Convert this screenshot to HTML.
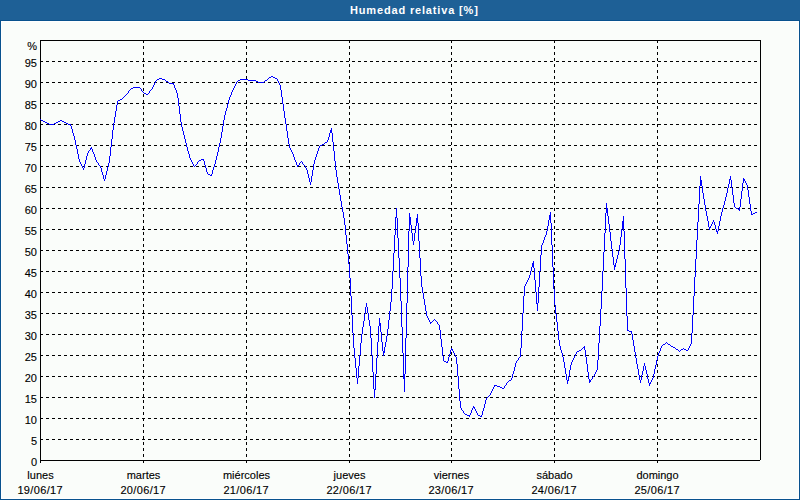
<!DOCTYPE html>
<html><head><meta charset="utf-8"><style>
html,body{margin:0;padding:0;width:800px;height:500px;overflow:hidden;background:#fafdfa}
#wrap{position:relative;width:800px;height:500px;}
#title{position:absolute;left:0;top:0;width:800px;height:20px;background:#1e6096;}
#title span{position:absolute;left:350px;top:5px;font:bold 11px "Liberation Sans",sans-serif;color:#fff;white-space:nowrap;line-height:11px;letter-spacing:0.84px}
#frame{position:absolute;left:0;top:20px;width:798px;height:478px;border:1px solid #08528e;box-shadow:inset 0 0 0 1px #fff}
svg{position:absolute;left:0;top:0}
svg text{font-family:"Liberation Sans",sans-serif;font-size:11px;fill:#000;stroke:#000;stroke-width:0.12px}
.g{stroke:#000;stroke-width:1;stroke-dasharray:3 3;shape-rendering:crispEdges}
.a{stroke:#000;stroke-width:1;shape-rendering:crispEdges}
</style></head><body><div id="wrap">
<div id="title"><span>Humedad relativa [%]</span></div>
<div id="frame"></div>
<svg width="800" height="500" viewBox="0 0 800 500">
<line x1="40" y1="439.5" x2="760" y2="439.5" class="g"/>
<line x1="40" y1="418.5" x2="760" y2="418.5" class="g"/>
<line x1="40" y1="397.5" x2="760" y2="397.5" class="g"/>
<line x1="40" y1="376.5" x2="760" y2="376.5" class="g"/>
<line x1="40" y1="355.5" x2="760" y2="355.5" class="g"/>
<line x1="40" y1="334.5" x2="760" y2="334.5" class="g"/>
<line x1="40" y1="313.5" x2="760" y2="313.5" class="g"/>
<line x1="40" y1="292.5" x2="760" y2="292.5" class="g"/>
<line x1="40" y1="271.5" x2="760" y2="271.5" class="g"/>
<line x1="40" y1="250.5" x2="760" y2="250.5" class="g"/>
<line x1="40" y1="229.5" x2="760" y2="229.5" class="g"/>
<line x1="40" y1="208.5" x2="760" y2="208.5" class="g"/>
<line x1="40" y1="187.5" x2="760" y2="187.5" class="g"/>
<line x1="40" y1="166.5" x2="760" y2="166.5" class="g"/>
<line x1="40" y1="145.5" x2="760" y2="145.5" class="g"/>
<line x1="40" y1="124.5" x2="760" y2="124.5" class="g"/>
<line x1="40" y1="103.5" x2="760" y2="103.5" class="g"/>
<line x1="40" y1="82.5" x2="760" y2="82.5" class="g"/>
<line x1="40" y1="61.5" x2="760" y2="61.5" class="g"/>
<line x1="143.5" y1="40" x2="143.5" y2="460" class="g"/>
<line x1="246.5" y1="40" x2="246.5" y2="460" class="g"/>
<line x1="349.5" y1="40" x2="349.5" y2="460" class="g"/>
<line x1="451.5" y1="40" x2="451.5" y2="460" class="g"/>
<line x1="554.5" y1="40" x2="554.5" y2="460" class="g"/>
<line x1="657.5" y1="40" x2="657.5" y2="460" class="g"/>
<line x1="40" y1="40.5" x2="761" y2="40.5" class="a"/>
<line x1="760.5" y1="40" x2="760.5" y2="460" class="a"/>
<line x1="40" y1="460.5" x2="760" y2="460.5" class="a"/>
<line x1="40.5" y1="40" x2="40.5" y2="463" class="a"/>
<line x1="143.5" y1="460" x2="143.5" y2="463" class="a"/>
<line x1="246.5" y1="460" x2="246.5" y2="463" class="a"/>
<line x1="349.5" y1="460" x2="349.5" y2="463" class="a"/>
<line x1="451.5" y1="460" x2="451.5" y2="463" class="a"/>
<line x1="554.5" y1="460" x2="554.5" y2="463" class="a"/>
<line x1="657.5" y1="460" x2="657.5" y2="463" class="a"/>
<path d="M40 119h1v1h-1zM41 120h1v1h-1zM42 120h1v1h-1zM43 121h1v1h-1zM44 121h1v1h-1zM45 122h1v1h-1zM46 122h1v1h-1zM47 123h1v1h-1zM48 123h1v1h-1zM49 124h1v1h-1zM50 124h1v1h-1zM51 124h1v1h-1zM52 124h1v1h-1zM53 124h1v1h-1zM54 123h1v1h-1zM55 123h1v1h-1zM56 122h1v1h-1zM57 122h1v1h-1zM58 121h1v1h-1zM59 121h1v1h-1zM60 120h1v1h-1zM61 120h1v1h-1zM62 121h1v1h-1zM63 121h1v1h-1zM64 122h1v1h-1zM65 122h1v1h-1zM66 123h1v1h-1zM67 123h1v1h-1zM68 124h1v1h-1zM69 124h1v1h-1zM70 124h1v2h-1zM71 126h1v3h-1zM72 129h1v4h-1zM73 133h1v3h-1zM74 136h1v4h-1zM75 140h1v5h-1zM76 145h1v4h-1zM77 149h1v5h-1zM78 154h1v5h-1zM79 159h1v3h-1zM80 162h1v2h-1zM81 164h1v2h-1zM82 166h1v2h-1zM83 168h1v2h-1zM84 164h1v4h-1zM85 160h1v4h-1zM86 156h1v4h-1zM87 153h1v3h-1zM88 151h1v2h-1zM89 150h1v1h-1zM90 148h1v2h-1zM91 147h1v2h-1zM92 149h1v3h-1zM93 152h1v2h-1zM94 154h1v3h-1zM95 157h1v3h-1zM96 160h1v2h-1zM97 162h1v1h-1zM98 163h1v2h-1zM99 165h1v1h-1zM100 166h1v2h-1zM101 168h1v4h-1zM102 172h1v3h-1zM103 175h1v4h-1zM104 179h1v2h-1zM105 175h1v4h-1zM106 171h1v4h-1zM107 167h1v4h-1zM108 163h1v4h-1zM109 156h1v7h-1zM110 147h1v9h-1zM111 139h1v8h-1zM112 130h1v9h-1zM113 123h1v7h-1zM114 117h1v6h-1zM115 111h1v6h-1zM116 105h1v6h-1zM117 101h1v4h-1zM118 100h1v1h-1zM119 100h1v1h-1zM120 99h1v1h-1zM121 99h1v1h-1zM122 98h1v1h-1zM123 97h1v1h-1zM124 96h1v1h-1zM125 95h1v1h-1zM126 94h1v1h-1zM127 93h1v1h-1zM128 91h1v2h-1zM129 90h1v1h-1zM130 89h1v1h-1zM131 88h1v1h-1zM132 88h1v1h-1zM133 87h1v1h-1zM134 87h1v1h-1zM135 87h1v1h-1zM136 87h1v1h-1zM137 87h1v1h-1zM138 87h1v1h-1zM139 87h1v1h-1zM140 88h1v1h-1zM141 89h1v2h-1zM142 91h1v1h-1zM143 92h1v1h-1zM144 93h1v1h-1zM145 93h1v1h-1zM146 94h1v1h-1zM147 94h1v1h-1zM148 93h1v1h-1zM149 91h1v2h-1zM150 90h1v1h-1zM151 89h1v1h-1zM152 87h1v2h-1zM153 85h1v2h-1zM154 83h1v2h-1zM155 81h1v2h-1zM156 80h1v1h-1zM157 79h1v1h-1zM158 79h1v1h-1zM159 78h1v1h-1zM160 78h1v1h-1zM161 78h1v1h-1zM162 79h1v1h-1zM163 79h1v1h-1zM164 79h1v1h-1zM165 80h1v1h-1zM166 81h1v1h-1zM167 81h1v1h-1zM168 82h1v1h-1zM169 83h1v1h-1zM170 83h1v1h-1zM171 83h1v1h-1zM172 83h1v1h-1zM173 83h1v2h-1zM174 85h1v3h-1zM175 88h1v2h-1zM176 90h1v3h-1zM177 93h1v5h-1zM178 98h1v8h-1zM179 106h1v8h-1zM180 114h1v8h-1zM181 122h1v5h-1zM182 127h1v4h-1zM183 131h1v4h-1zM184 135h1v4h-1zM185 139h1v4h-1zM186 143h1v4h-1zM187 147h1v4h-1zM188 151h1v3h-1zM189 154h1v4h-1zM190 158h1v2h-1zM191 160h1v2h-1zM192 162h1v2h-1zM193 164h1v2h-1zM194 166h1v1h-1zM195 165h1v1h-1zM196 164h1v1h-1zM197 162h1v2h-1zM198 161h1v1h-1zM199 160h1v1h-1zM200 160h1v1h-1zM201 159h1v1h-1zM202 159h1v1h-1zM203 159h1v2h-1zM204 161h1v4h-1zM205 165h1v3h-1zM206 168h1v4h-1zM207 172h1v2h-1zM208 174h1v1h-1zM209 174h1v1h-1zM210 175h1v1h-1zM211 174h1v2h-1zM212 170h1v4h-1zM213 167h1v3h-1zM214 164h1v3h-1zM215 160h1v4h-1zM216 156h1v4h-1zM217 152h1v4h-1zM218 147h1v5h-1zM219 143h1v4h-1zM220 138h1v5h-1zM221 132h1v6h-1zM222 126h1v6h-1zM223 120h1v6h-1zM224 115h1v5h-1zM225 111h1v4h-1zM226 108h1v3h-1zM227 104h1v4h-1zM228 100h1v4h-1zM229 97h1v3h-1zM230 95h1v2h-1zM231 92h1v3h-1zM232 90h1v2h-1zM233 88h1v2h-1zM234 86h1v2h-1zM235 84h1v2h-1zM236 82h1v2h-1zM237 81h1v1h-1zM238 80h1v1h-1zM239 80h1v1h-1zM240 79h1v1h-1zM241 79h1v1h-1zM242 79h1v1h-1zM243 79h1v1h-1zM244 79h1v1h-1zM245 79h1v1h-1zM246 79h1v1h-1zM247 79h1v1h-1zM248 80h1v1h-1zM249 80h1v1h-1zM250 80h1v1h-1zM251 80h1v1h-1zM252 80h1v1h-1zM253 80h1v1h-1zM254 80h1v1h-1zM255 80h1v1h-1zM256 81h1v1h-1zM257 81h1v1h-1zM258 82h1v1h-1zM259 82h1v1h-1zM260 82h1v1h-1zM261 82h1v1h-1zM262 82h1v1h-1zM263 82h1v1h-1zM264 81h1v1h-1zM265 80h1v1h-1zM266 80h1v1h-1zM267 79h1v1h-1zM268 78h1v1h-1zM269 77h1v1h-1zM270 77h1v1h-1zM271 76h1v1h-1zM272 76h1v1h-1zM273 77h1v1h-1zM274 77h1v1h-1zM275 78h1v1h-1zM276 78h1v1h-1zM277 79h1v2h-1zM278 81h1v2h-1zM279 83h1v2h-1zM280 85h1v5h-1zM281 90h1v7h-1zM282 97h1v7h-1zM283 104h1v7h-1zM284 111h1v7h-1zM285 118h1v6h-1zM286 124h1v7h-1zM287 131h1v7h-1zM288 138h1v6h-1zM289 144h1v4h-1zM290 148h1v2h-1zM291 150h1v2h-1zM292 152h1v2h-1zM293 154h1v3h-1zM294 157h1v3h-1zM295 160h1v2h-1zM296 162h1v3h-1zM297 165h1v2h-1zM298 165h1v1h-1zM299 163h1v2h-1zM300 162h1v1h-1zM301 161h1v1h-1zM302 162h1v2h-1zM303 164h1v1h-1zM304 165h1v1h-1zM305 166h1v2h-1zM306 168h1v2h-1zM307 170h1v4h-1zM308 174h1v4h-1zM309 178h1v4h-1zM310 182h1v3h-1zM311 176h1v6h-1zM312 170h1v6h-1zM313 164h1v6h-1zM314 160h1v4h-1zM315 157h1v3h-1zM316 154h1v3h-1zM317 151h1v3h-1zM318 148h1v3h-1zM319 146h1v2h-1zM320 145h1v1h-1zM321 145h1v1h-1zM322 144h1v1h-1zM323 144h1v1h-1zM324 143h1v1h-1zM325 142h1v1h-1zM326 142h1v1h-1zM327 140h1v2h-1zM328 137h1v3h-1zM329 133h1v4h-1zM330 130h1v3h-1zM331 128h1v5h-1zM332 133h1v9h-1zM333 142h1v9h-1zM334 151h1v10h-1zM335 161h1v9h-1zM336 170h1v7h-1zM337 177h1v6h-1zM338 183h1v6h-1zM339 189h1v6h-1zM340 195h1v6h-1zM341 201h1v6h-1zM342 207h1v5h-1zM343 212h1v6h-1zM344 218h1v7h-1zM345 225h1v10h-1zM346 235h1v9h-1zM347 244h1v10h-1zM348 254h1v10h-1zM349 264h1v14h-1zM350 278h1v18h-1zM351 296h1v19h-1zM352 315h1v18h-1zM353 333h1v15h-1zM354 348h1v10h-1zM355 358h1v10h-1zM356 368h1v10h-1zM357 378h1v6h-1zM358 366h1v12h-1zM359 355h1v11h-1zM360 343h1v12h-1zM361 334h1v9h-1zM362 327h1v7h-1zM363 321h1v6h-1zM364 314h1v7h-1zM365 307h1v7h-1zM366 303h1v4h-1zM367 307h1v6h-1zM368 313h1v7h-1zM369 320h1v6h-1zM370 326h1v12h-1zM371 338h1v17h-1zM372 355h1v17h-1zM373 372h1v17h-1zM374 389h1v9h-1zM375 374h1v16h-1zM376 358h1v16h-1zM377 342h1v16h-1zM378 326h1v16h-1zM379 318h1v8h-1zM380 323h1v9h-1zM381 332h1v10h-1zM382 342h1v9h-1zM383 351h1v5h-1zM384 347h1v6h-1zM385 342h1v5h-1zM386 336h1v6h-1zM387 329h1v7h-1zM388 320h1v9h-1zM389 311h1v9h-1zM390 302h1v9h-1zM391 289h1v13h-1zM392 271h1v18h-1zM393 253h1v18h-1zM394 235h1v18h-1zM395 217h1v18h-1zM396 208h1v10h-1zM397 218h1v20h-1zM398 238h1v20h-1zM399 258h1v20h-1zM400 278h1v23h-1zM401 301h1v26h-1zM402 327h1v26h-1zM403 353h1v26h-1zM404 374h1v18h-1zM405 338h1v36h-1zM406 303h1v35h-1zM407 267h1v36h-1zM408 231h1v36h-1zM409 213h1v18h-1zM410 217h1v8h-1zM411 225h1v8h-1zM412 233h1v8h-1zM413 241h1v4h-1zM414 233h1v8h-1zM415 226h1v7h-1zM416 218h1v8h-1zM417 214h1v9h-1zM418 223h1v18h-1zM419 241h1v17h-1zM420 258h1v18h-1zM421 276h1v11h-1zM422 287h1v6h-1zM423 293h1v6h-1zM424 299h1v6h-1zM425 305h1v6h-1zM426 311h1v5h-1zM427 316h1v2h-1zM428 318h1v2h-1zM429 320h1v2h-1zM430 322h1v2h-1zM431 322h1v1h-1zM432 321h1v1h-1zM433 320h1v1h-1zM434 319h1v1h-1zM435 320h1v1h-1zM436 321h1v1h-1zM437 322h1v2h-1zM438 324h1v1h-1zM439 325h1v5h-1zM440 330h1v9h-1zM441 339h1v8h-1zM442 347h1v9h-1zM443 356h1v5h-1zM444 361h1v1h-1zM445 361h1v1h-1zM446 362h1v1h-1zM447 361h1v2h-1zM448 357h1v4h-1zM449 354h1v3h-1zM450 350h1v4h-1zM451 348h1v2h-1zM452 349h1v2h-1zM453 351h1v2h-1zM454 353h1v2h-1zM455 355h1v2h-1zM456 357h1v7h-1zM457 364h1v12h-1zM458 376h1v13h-1zM459 389h1v12h-1zM460 401h1v7h-1zM461 408h1v2h-1zM462 410h1v1h-1zM463 411h1v2h-1zM464 413h1v1h-1zM465 414h1v1h-1zM466 414h1v1h-1zM467 415h1v1h-1zM468 415h1v1h-1zM469 415h1v2h-1zM470 413h1v2h-1zM471 410h1v3h-1zM472 408h1v2h-1zM473 406h1v2h-1zM474 407h1v2h-1zM475 409h1v2h-1zM476 411h1v2h-1zM477 413h1v2h-1zM478 415h1v1h-1zM479 415h1v1h-1zM480 416h1v1h-1zM481 415h1v2h-1zM482 411h1v4h-1zM483 408h1v3h-1zM484 404h1v4h-1zM485 400h1v4h-1zM486 398h1v2h-1zM487 397h1v1h-1zM488 396h1v1h-1zM489 395h1v1h-1zM490 393h1v2h-1zM491 391h1v2h-1zM492 389h1v2h-1zM493 387h1v2h-1zM494 385h1v2h-1zM495 385h1v1h-1zM496 385h1v1h-1zM497 386h1v1h-1zM498 386h1v1h-1zM499 386h1v1h-1zM500 387h1v1h-1zM501 387h1v1h-1zM502 388h1v1h-1zM503 388h1v1h-1zM504 386h1v2h-1zM505 385h1v1h-1zM506 383h1v2h-1zM507 382h1v1h-1zM508 381h1v1h-1zM509 380h1v1h-1zM510 380h1v1h-1zM511 378h1v2h-1zM512 374h1v4h-1zM513 371h1v3h-1zM514 367h1v4h-1zM515 363h1v4h-1zM516 361h1v2h-1zM517 360h1v1h-1zM518 358h1v2h-1zM519 357h1v1h-1zM520 348h1v9h-1zM521 331h1v17h-1zM522 313h1v18h-1zM523 296h1v17h-1zM524 286h1v10h-1zM525 284h1v2h-1zM526 282h1v2h-1zM527 280h1v2h-1zM528 278h1v2h-1zM529 275h1v3h-1zM530 271h1v4h-1zM531 267h1v4h-1zM532 263h1v4h-1zM533 261h1v7h-1zM534 268h1v12h-1zM535 280h1v12h-1zM536 292h1v12h-1zM537 303h1v8h-1zM538 287h1v16h-1zM539 271h1v16h-1zM540 255h1v16h-1zM541 245h1v10h-1zM542 243h1v2h-1zM543 240h1v3h-1zM544 237h1v3h-1zM545 235h1v2h-1zM546 231h1v4h-1zM547 226h1v5h-1zM548 220h1v6h-1zM549 215h1v5h-1zM550 212h1v11h-1zM551 223h1v22h-1zM552 245h1v22h-1zM553 267h1v22h-1zM554 289h1v16h-1zM555 305h1v9h-1zM556 314h1v8h-1zM557 322h1v9h-1zM558 331h1v9h-1zM559 340h1v6h-1zM560 346h1v4h-1zM561 350h1v3h-1zM562 353h1v4h-1zM563 357h1v5h-1zM564 362h1v6h-1zM565 368h1v6h-1zM566 374h1v6h-1zM567 380h1v4h-1zM568 376h1v5h-1zM569 370h1v6h-1zM570 365h1v5h-1zM571 362h1v3h-1zM572 360h1v2h-1zM573 358h1v2h-1zM574 356h1v2h-1zM575 354h1v2h-1zM576 352h1v2h-1zM577 351h1v1h-1zM578 351h1v1h-1zM579 350h1v1h-1zM580 350h1v1h-1zM581 349h1v1h-1zM582 348h1v1h-1zM583 347h1v1h-1zM584 346h1v4h-1zM585 350h1v7h-1zM586 357h1v7h-1zM587 364h1v8h-1zM588 372h1v7h-1zM589 379h1v4h-1zM590 380h1v2h-1zM591 379h1v1h-1zM592 377h1v2h-1zM593 376h1v1h-1zM594 374h1v2h-1zM595 372h1v2h-1zM596 370h1v2h-1zM597 360h1v10h-1zM598 343h1v17h-1zM599 326h1v17h-1zM600 309h1v17h-1zM601 291h1v18h-1zM602 271h1v20h-1zM603 252h1v19h-1zM604 233h1v19h-1zM605 213h1v20h-1zM606 203h1v10h-1zM607 208h1v8h-1zM608 216h1v8h-1zM609 224h1v8h-1zM610 232h1v9h-1zM611 241h1v8h-1zM612 249h1v8h-1zM613 257h1v8h-1zM614 265h1v5h-1zM615 263h1v4h-1zM616 259h1v4h-1zM617 255h1v4h-1zM618 251h1v4h-1zM619 245h1v6h-1zM620 237h1v8h-1zM621 229h1v8h-1zM622 221h1v8h-1zM623 216h1v15h-1zM624 231h1v28h-1zM625 259h1v29h-1zM626 288h1v28h-1zM627 316h1v15h-1zM628 330h1v1h-1zM629 331h1v1h-1zM630 331h1v1h-1zM631 331h1v3h-1zM632 334h1v6h-1zM633 340h1v6h-1zM634 346h1v6h-1zM635 352h1v6h-1zM636 358h1v6h-1zM637 364h1v5h-1zM638 369h1v6h-1zM639 375h1v5h-1zM640 380h1v3h-1zM641 375h1v5h-1zM642 371h1v4h-1zM643 366h1v5h-1zM644 363h1v3h-1zM645 366h1v4h-1zM646 370h1v4h-1zM647 374h1v5h-1zM648 379h1v4h-1zM649 383h1v3h-1zM650 382h1v2h-1zM651 380h1v2h-1zM652 378h1v2h-1zM653 374h1v4h-1zM654 369h1v5h-1zM655 365h1v4h-1zM656 360h1v5h-1zM657 356h1v4h-1zM658 353h1v3h-1zM659 351h1v2h-1zM660 348h1v3h-1zM661 346h1v2h-1zM662 345h1v1h-1zM663 344h1v1h-1zM664 344h1v1h-1zM665 343h1v1h-1zM666 342h1v1h-1zM667 343h1v1h-1zM668 344h1v1h-1zM669 344h1v1h-1zM670 345h1v1h-1zM671 346h1v1h-1zM672 346h1v1h-1zM673 347h1v1h-1zM674 347h1v1h-1zM675 348h1v1h-1zM676 349h1v1h-1zM677 349h1v1h-1zM678 350h1v1h-1zM679 351h1v1h-1zM680 350h1v1h-1zM681 349h1v1h-1zM682 349h1v1h-1zM683 348h1v1h-1zM684 349h1v1h-1zM685 349h1v1h-1zM686 350h1v1h-1zM687 350h1v1h-1zM688 348h1v2h-1zM689 346h1v2h-1zM690 344h1v2h-1zM691 333h1v11h-1zM692 315h1v18h-1zM693 296h1v19h-1zM694 277h1v19h-1zM695 259h1v18h-1zM696 240h1v19h-1zM697 222h1v18h-1zM698 204h1v18h-1zM699 186h1v18h-1zM700 176h1v10h-1zM701 180h1v6h-1zM702 186h1v7h-1zM703 193h1v6h-1zM704 199h1v6h-1zM705 205h1v6h-1zM706 211h1v5h-1zM707 216h1v5h-1zM708 221h1v6h-1zM709 227h1v3h-1zM710 226h1v2h-1zM711 224h1v2h-1zM712 222h1v2h-1zM713 220h1v2h-1zM714 222h1v3h-1zM715 225h1v4h-1zM716 229h1v3h-1zM717 231h1v3h-1zM718 226h1v5h-1zM719 221h1v5h-1zM720 216h1v5h-1zM721 212h1v4h-1zM722 208h1v4h-1zM723 205h1v3h-1zM724 201h1v4h-1zM725 197h1v4h-1zM726 193h1v4h-1zM727 188h1v5h-1zM728 184h1v4h-1zM729 179h1v5h-1zM730 176h1v4h-1zM731 180h1v8h-1zM732 188h1v7h-1zM733 195h1v8h-1zM734 203h1v4h-1zM735 207h1v1h-1zM736 208h1v1h-1zM737 208h1v1h-1zM738 209h1v1h-1zM739 207h1v4h-1zM740 199h1v8h-1zM741 191h1v8h-1zM742 183h1v8h-1zM743 178h1v5h-1zM744 179h1v2h-1zM745 181h1v2h-1zM746 183h1v2h-1zM747 185h1v5h-1zM748 190h1v7h-1zM749 197h1v7h-1zM750 204h1v7h-1zM751 211h1v4h-1zM752 214h1v1h-1zM753 213h1v1h-1zM754 213h1v1h-1zM755 212h1v1h-1zM756 212h1v1h-1z" fill="#0000ff" shape-rendering="crispEdges"/>
<text x="37" y="466" text-anchor="end">0</text>
<text x="37" y="445" text-anchor="end">5</text>
<text x="37" y="424" text-anchor="end">10</text>
<text x="37" y="403" text-anchor="end">15</text>
<text x="37" y="382" text-anchor="end">20</text>
<text x="37" y="361" text-anchor="end">25</text>
<text x="37" y="340" text-anchor="end">30</text>
<text x="37" y="319" text-anchor="end">35</text>
<text x="37" y="298" text-anchor="end">40</text>
<text x="37" y="277" text-anchor="end">45</text>
<text x="37" y="256" text-anchor="end">50</text>
<text x="37" y="235" text-anchor="end">55</text>
<text x="37" y="214" text-anchor="end">60</text>
<text x="37" y="193" text-anchor="end">65</text>
<text x="37" y="172" text-anchor="end">70</text>
<text x="37" y="151" text-anchor="end">75</text>
<text x="37" y="130" text-anchor="end">80</text>
<text x="37" y="109" text-anchor="end">85</text>
<text x="37" y="88" text-anchor="end">90</text>
<text x="37" y="67" text-anchor="end">95</text>
<text x="37" y="50" text-anchor="end">%</text>
<text x="40.5" y="479" text-anchor="middle">lunes</text>
<text x="40.2" y="494" text-anchor="middle" letter-spacing="0.35">19/06/17</text>
<text x="143.5" y="479" text-anchor="middle">martes</text>
<text x="143.2" y="494" text-anchor="middle" letter-spacing="0.35">20/06/17</text>
<text x="246.5" y="479" text-anchor="middle">miércoles</text>
<text x="246.2" y="494" text-anchor="middle" letter-spacing="0.35">21/06/17</text>
<text x="349.5" y="479" text-anchor="middle">jueves</text>
<text x="349.2" y="494" text-anchor="middle" letter-spacing="0.35">22/06/17</text>
<text x="451.5" y="479" text-anchor="middle">viernes</text>
<text x="451.2" y="494" text-anchor="middle" letter-spacing="0.35">23/06/17</text>
<text x="554.5" y="479" text-anchor="middle">sábado</text>
<text x="554.2" y="494" text-anchor="middle" letter-spacing="0.35">24/06/17</text>
<text x="657.5" y="479" text-anchor="middle">domingo</text>
<text x="657.2" y="494" text-anchor="middle" letter-spacing="0.35">25/06/17</text>
</svg>
</div></body></html>
